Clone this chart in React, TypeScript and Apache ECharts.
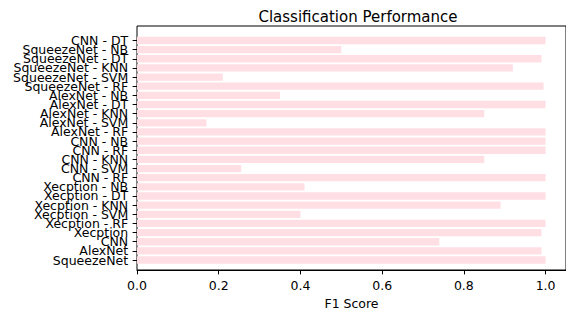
import React, { useEffect, useRef } from "react";
import * as echarts from "echarts";

const categories = [
  "CNN - DT",
  "SqueezeNet - NB",
  "SqueezeNet - DT",
  "SqueezeNet - KNN",
  "SqueezeNet - SVM",
  "SqueezeNet - RF",
  "AlexNet - NB",
  "AlexNet - DT",
  "AlexNet - KNN",
  "AlexNet - SVM",
  "AlexNet - RF",
  "CNN - NB",
  "CNN - RF",
  "CNN - KNN",
  "CNN - SVM",
  "CNN - RF",
  "Xecption - NB",
  "Xecption - DT",
  "Xecption - KNN",
  "Xecption - SVM",
  "Xecption - RF",
  "Xecption",
  "CNN",
  "AlexNet",
  "SqueezeNet",
];

const f1Scores = [
  1.0, 0.5, 0.99, 0.92, 0.21, 0.995, 0.35, 1.0, 0.85, 0.17, 1.0, 1.0, 1.0,
  0.85, 0.255, 1.0, 0.41, 1.0, 0.89, 0.4, 1.0, 0.99, 0.74, 0.99, 1.0,
];

const xTicks = { min: 0, max: 1.05, interval: 0.2 };
const titleText = "Classification Performance";
const xLabel = "F1 Score";

const FONT = "DejaVu Sans";

export default function App() {
  const ref = useRef<HTMLDivElement>(null);
  useEffect(() => {
    document.body.style.margin = "0";
    const chart = echarts.init(ref.current!, null, { renderer: "svg" });
    chart.setOption({
      animation: false,
      title: {
        text: titleText,
        left: 353,
        top: 4,
        textAlign: "center",
        textStyle: {
          fontFamily: FONT,
          fontSize: 15,
          fontWeight: "normal",
          color: "#000",
        },
      },
      grid: [
        {
          left: 137,
          right: -3.6,
          top: 26,
          bottom: 40,
          show: true,
          borderColor: "#000",
          borderWidth: 1,
          backgroundColor: "transparent",
        },
        {
          left: 137,
          right: -3.6,
          top: 35.9,
          bottom: 50.4,
        },
      ],
      xAxis: [
        {
          gridIndex: 0,
          type: "value",
          min: xTicks.min,
          max: xTicks.max,
          interval: xTicks.interval,
          splitLine: { show: false },
          axisLine: { show: true, lineStyle: { color: "#000", width: 1 } },
          axisTick: { show: true, length: 4.4, lineStyle: { color: "#000", width: 1 } },
          axisLabel: {
            margin: 8.8,
            fontFamily: FONT,
            fontSize: 12.5,
            color: "#000",
            showMaxLabel: false,
            formatter: (v: number) => v.toFixed(1),
          },
          name: xLabel,
          nameLocation: "middle",
          nameGap: 27,
          nameTextStyle: { fontFamily: FONT, fontSize: 12.5, color: "#000" },
        },
        {
          gridIndex: 1,
          type: "value",
          min: xTicks.min,
          max: xTicks.max,
          show: false,
        },
      ],
      yAxis: [
        { gridIndex: 0, type: "value", show: false },
        {
          gridIndex: 1,
          type: "category",
          inverse: true,
          data: categories,
          axisLine: { show: false },
          axisTick: {
            show: true,
            alignWithLabel: true,
            length: 4.4,
            lineStyle: { color: "#000", width: 1 },
          },
          axisLabel: {
            margin: 8.8,
            interval: 0,
            fontFamily: FONT,
            fontSize: 12.5,
            color: "#000",
          },
          splitLine: { show: false },
        },
      ],
      series: [
        {
          type: "bar",
          xAxisIndex: 1,
          yAxisIndex: 1,
          data: f1Scores,
          barCategoryGap: "20%",
          itemStyle: { color: "#ffdfe4" },
          silent: true,
        },
      ],
    });
    return () => chart.dispose();
  }, []);
  return <div ref={ref} style={{ width: 566, height: 315 }} />;
}
